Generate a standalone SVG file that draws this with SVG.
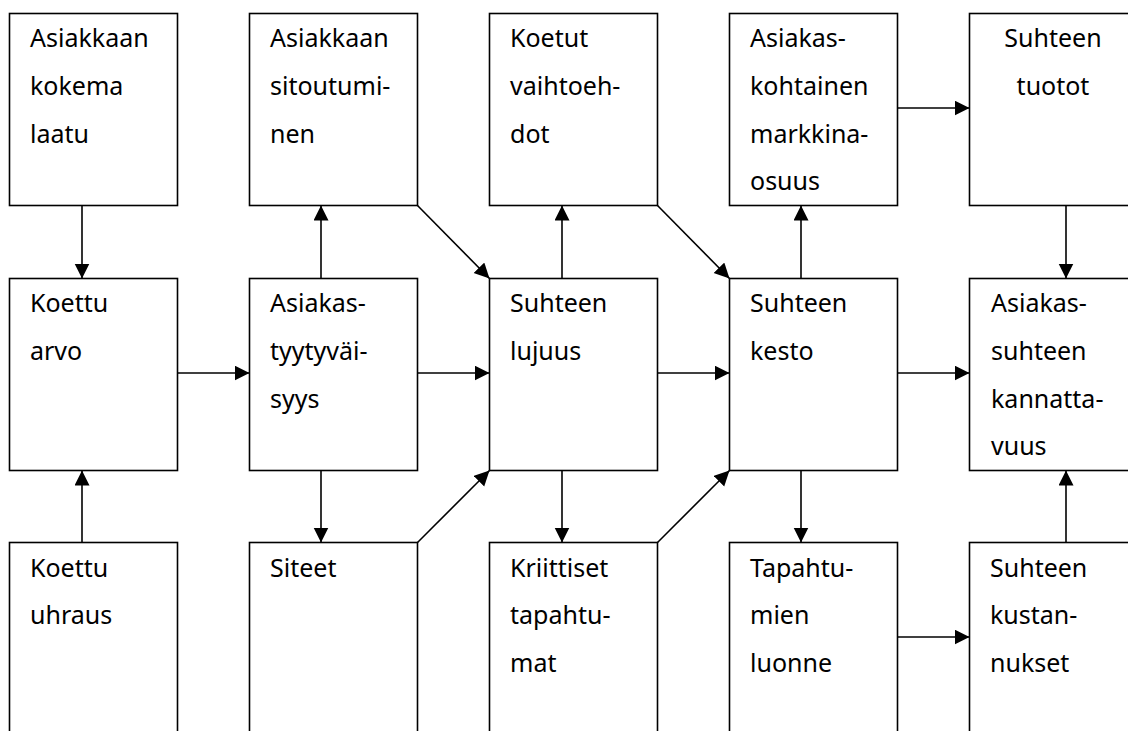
<svg xmlns="http://www.w3.org/2000/svg" width="1128" height="731" viewBox="0 0 1128 731">
<style>
.box{fill:#fff;stroke:#000;stroke-width:1.6}
.t{font-family:"Noto Sans","Open Sans","DejaVu Sans",sans-serif;font-size:25px;fill:#000}
.c{stroke:#000;stroke-width:1.6;fill:none;marker-end:url(#ah)}
</style>
<defs>
<marker id="ah" markerUnits="userSpaceOnUse" markerWidth="16" markerHeight="16" refX="15" refY="7.5" orient="auto">
<path d="M0,0 L15,7.5 L0,15 z" fill="#000"/>
</marker>
</defs>
<rect width="1128" height="731" fill="#fff"/>
<g id="n11"><rect class="box" x="9.5" y="13.5" width="168" height="192"/>
<text class="t" x="30"><tspan x="30" y="47">Asiakkaan</tspan><tspan x="30" y="95">kokema</tspan><tspan x="30" y="143">laatu</tspan></text></g>
<g id="n12"><rect class="box" x="249.5" y="13.5" width="168" height="192"/>
<text class="t"><tspan x="270" y="47">Asiakkaan</tspan><tspan x="270" y="95">sitoutumi-</tspan><tspan x="270" y="143">nen</tspan></text></g>
<g id="n13"><rect class="box" x="489.5" y="13.5" width="168" height="192"/>
<text class="t"><tspan x="510" y="47">Koetut</tspan><tspan x="510" y="95">vaihtoeh-</tspan><tspan x="510" y="143">dot</tspan></text></g>
<g id="n14"><rect class="box" x="729.5" y="13.5" width="168" height="192"/>
<text class="t"><tspan x="750" y="47">Asiakas-</tspan><tspan x="750" y="95">kohtainen</tspan><tspan x="750" y="143">markkina-</tspan><tspan x="750" y="190">osuus</tspan></text></g>
<g id="n15"><rect class="box" x="969.5" y="13.5" width="170" height="192"/>
<text class="t" text-anchor="middle"><tspan x="1053" y="47">Suhteen</tspan><tspan x="1053" y="95">tuotot</tspan></text></g>

<g id="n21"><rect class="box" x="9.5" y="278.5" width="168" height="192"/>
<text class="t"><tspan x="30" y="312">Koettu</tspan><tspan x="30" y="360">arvo</tspan></text></g>
<g id="n22"><rect class="box" x="249.5" y="278.5" width="168" height="192"/>
<text class="t"><tspan x="270" y="312">Asiakas-</tspan><tspan x="270" y="360">tyytyväi-</tspan><tspan x="270" y="408">syys</tspan></text></g>
<g id="n23"><rect class="box" x="489.5" y="278.5" width="168" height="192"/>
<text class="t"><tspan x="510" y="312">Suhteen</tspan><tspan x="510" y="360">lujuus</tspan></text></g>
<g id="n24"><rect class="box" x="729.5" y="278.5" width="168" height="192"/>
<text class="t"><tspan x="750" y="312">Suhteen</tspan><tspan x="750" y="360">kesto</tspan></text></g>
<g id="n25"><rect class="box" x="969.5" y="278.5" width="170" height="192"/>
<text class="t"><tspan x="991" y="312">Asiakas-</tspan><tspan x="991" y="360">suhteen</tspan><tspan x="991" y="408">kannatta-</tspan><tspan x="991" y="455">vuus</tspan></text></g>

<g id="n31"><rect class="box" x="9.5" y="542.5" width="168" height="220"/>
<text class="t"><tspan x="30" y="577">Koettu</tspan><tspan x="30" y="624">uhraus</tspan></text></g>
<g id="n32"><rect class="box" x="249.5" y="542.5" width="168" height="220"/>
<text class="t"><tspan x="270" y="577">Siteet</tspan></text></g>
<g id="n33"><rect class="box" x="489.5" y="542.5" width="168" height="220"/>
<text class="t"><tspan x="510" y="577">Kriittiset</tspan><tspan x="510" y="624">tapahtu-</tspan><tspan x="510" y="672">mat</tspan></text></g>
<g id="n34"><rect class="box" x="729.5" y="542.5" width="168" height="220"/>
<text class="t"><tspan x="750" y="577">Tapahtu-</tspan><tspan x="750" y="624">mien</tspan><tspan x="750" y="672">luonne</tspan></text></g>
<g id="n35"><rect class="box" x="969.5" y="542.5" width="170" height="220"/>
<text class="t"><tspan x="990" y="577">Suhteen</tspan><tspan x="990" y="624">kustan-</tspan><tspan x="990" y="672">nukset</tspan></text></g>

<g id="connectors">
<line class="c" x1="82" y1="205.5" x2="82" y2="278.5"/>
<line class="c" x1="82" y1="542.5" x2="82" y2="470.5"/>
<line class="c" x1="177.5" y1="373" x2="249.5" y2="373"/>
<line class="c" x1="321" y1="278.5" x2="321" y2="205.5"/>
<line class="c" x1="321" y1="470.5" x2="321" y2="542.5"/>
<line class="c" x1="417.5" y1="373" x2="489.5" y2="373"/>
<line class="c" x1="417.5" y1="205.5" x2="489.5" y2="278.5"/>
<line class="c" x1="417.5" y1="542.5" x2="489.5" y2="470.5"/>
<line class="c" x1="562" y1="278.5" x2="562" y2="205.5"/>
<line class="c" x1="562" y1="470.5" x2="562" y2="542.5"/>
<line class="c" x1="657.5" y1="373" x2="729.5" y2="373"/>
<line class="c" x1="657.5" y1="205.5" x2="729.5" y2="278.5"/>
<line class="c" x1="657.5" y1="542.5" x2="729.5" y2="470.5"/>
<line class="c" x1="801" y1="278.5" x2="801" y2="205.5"/>
<line class="c" x1="801" y1="470.5" x2="801" y2="542.5"/>
<line class="c" x1="897.5" y1="373" x2="969.5" y2="373"/>
<line class="c" x1="897.5" y1="108" x2="969.5" y2="108"/>
<line class="c" x1="1066" y1="205.5" x2="1066" y2="278.5"/>
<line class="c" x1="1066" y1="542.5" x2="1066" y2="470.5"/>
<line class="c" x1="897.5" y1="637" x2="969.5" y2="637"/>
</g>
</svg>
